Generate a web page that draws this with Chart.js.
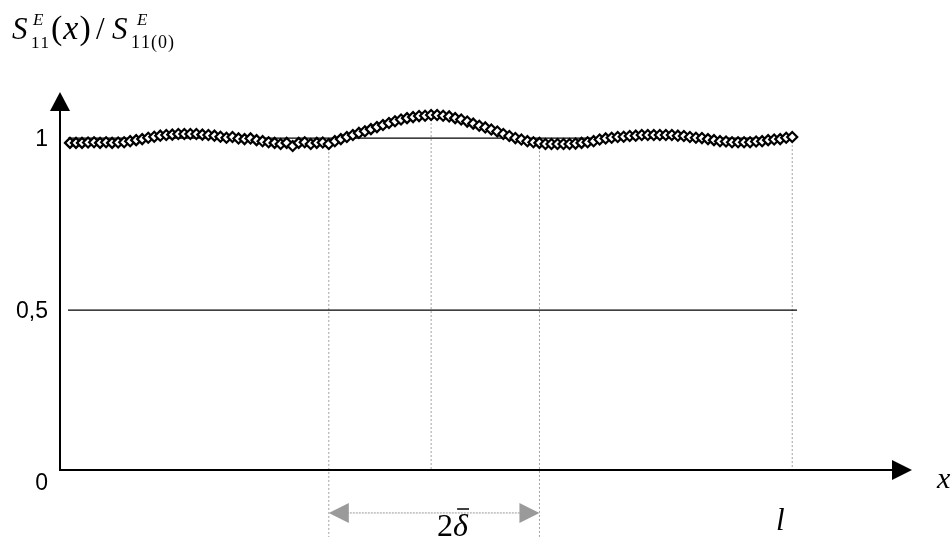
<!DOCTYPE html>
<html lang="ru">
<head>
<meta charset="UTF-8">
<title>S11E(x) / S11E(0)</title>
<script src="https://cdn.jsdelivr.net/npm/chart.js"></script>
<style>
    html, body { margin: 0; padding: 0; background: #fff; }
    #wrap { width: 951px; height: 537px; }
</style>
</head>
<body>
<div id="wrap"><canvas id="profileChart" width="951" height="537"></canvas></div>
<script>
    // S11E(x) / S11E(0) along the sample, equally spaced points 0..120
    const ratioValues = [
        0.986, 0.986, 0.986, 0.987, 0.988, 0.986, 0.988, 0.986, 0.987, 0.988,
        0.991, 0.994, 0.997, 1.001, 1.004, 1.007, 1.009, 1.010, 1.012, 1.012,
        1.012, 1.012, 1.010, 1.009, 1.007, 1.004, 1.001, 1.003, 0.999, 0.997,
        0.999, 0.994, 0.991, 0.988, 0.986, 0.983, 0.986, 0.977, 0.986, 0.988,
        0.983, 0.986, 0.987, 0.983, 0.991, 0.997, 1.003, 1.009, 1.015, 1.020,
        1.026, 1.032, 1.038, 1.044, 1.049, 1.054, 1.058, 1.061, 1.064, 1.065,
        1.067, 1.067, 1.065, 1.063, 1.058, 1.054, 1.048, 1.042, 1.036, 1.031,
        1.025, 1.019, 1.012, 1.006, 1.000, 0.996, 0.991, 0.988, 0.986, 0.983,
        0.983, 0.983, 0.983, 0.983, 0.984, 0.986, 0.988, 0.991, 0.996, 0.999,
        1.001, 1.003, 1.004, 1.006, 1.007, 1.009, 1.009, 1.009, 1.009, 1.009,
        1.009, 1.007, 1.006, 1.003, 1.001, 1.000, 0.997, 0.994, 0.991, 0.990,
        0.988, 0.988, 0.988, 0.988, 0.990, 0.991, 0.994, 0.996, 0.997, 1.001,
        1.003
    ];
    const positions = ratioValues.map((v, i) => i);

    const yTicks = [0, 0.5, 1];
    const yTickLabels = ['0', '0,5', '1'];
    const gridLevels = [0.5, 1];
    const gridFrom = -0.33;
    const gridTo = 120.8;

    // x0 - delta, x0, x0 + delta, l
    const markIdx = [43, 60, 78, 120];
    const deltaLeft = 43, deltaRight = 78, lengthIdx = 120;

    const xMin = -1.66, xMax = 139.9;
    const yMin = 0, yMax = 1.134;
    const axisY = 0.035;      // where the x axis line sits
    const belowAxis = -0.17;  // delta lines run to the bottom edge
    const arrowLevel = -0.09; // 2δ dimension arrow

    const datasets = [];

    datasets.push({
        data: positions.map((x, i) => ({x: x, y: ratioValues[i]})),
        borderColor: '#000',
        borderWidth: 1.2,
        pointStyle: 'rectRot',
        pointRadius: 5,
        pointBackgroundColor: '#fff',
        pointBorderColor: '#000',
        pointBorderWidth: 2.2,
        order: 0
    });

    gridLevels.forEach(g => {
        datasets.push({
            data: [{x: gridFrom, y: g}, {x: gridTo, y: g}],
            borderColor: '#000',
            borderWidth: 1.2,
            pointRadius: 0,
            order: 2
        });
    });

    markIdx.forEach(idx => {
        const reachBottom = idx === deltaLeft || idx === deltaRight;
        datasets.push({
            data: [{x: idx, y: ratioValues[idx]}, {x: idx, y: reachBottom ? belowAxis : axisY}],
            borderColor: '#a0a0a0',
            borderWidth: 1,
            borderDash: [2, 2],
            pointRadius: 0,
            clip: false,
            order: 3
        });
    });

    const serif = '"Liberation Serif", "Times New Roman", serif';

    const decor = {
        id: 'decor',
        afterDraw(chart) {
            const ctx = chart.ctx;
            const xs = chart.scales.x, ys = chart.scales.y;
            const ax = xs.getPixelForValue(xMin);
            const ay = ys.getPixelForValue(axisY);
            const top = ys.top, right = xs.right;

            ctx.save();
            ctx.strokeStyle = '#000';
            ctx.fillStyle = '#000';
            ctx.lineWidth = 2;

            // y axis with arrow
            ctx.beginPath();
            ctx.moveTo(ax, ay);
            ctx.lineTo(ax, top + 16);
            ctx.stroke();
            ctx.beginPath();
            ctx.moveTo(ax, top);
            ctx.lineTo(ax - 10, top + 19);
            ctx.lineTo(ax + 10, top + 19);
            ctx.closePath();
            ctx.fill();

            // x axis with arrow
            ctx.beginPath();
            ctx.moveTo(ax - 1, ay);
            ctx.lineTo(right - 16, ay);
            ctx.stroke();
            ctx.beginPath();
            ctx.moveTo(right, ay);
            ctx.lineTo(right - 20, ay - 10);
            ctx.lineTo(right - 20, ay + 10);
            ctx.closePath();
            ctx.fill();

            // tick labels
            ctx.font = '23px "Liberation Sans", Arial, sans-serif';
            ctx.textAlign = 'right';
            ctx.textBaseline = 'middle';
            yTicks.forEach((t, i) => {
                ctx.fillText(yTickLabels[i], ax - 12, ys.getPixelForValue(t) + 2);
            });

            // x label
            ctx.textAlign = 'left';
            ctx.textBaseline = 'alphabetic';
            ctx.font = 'italic 30px ' + serif;
            ctx.fillText('x', right + 25, ay + 18);

            // l label
            ctx.font = 'italic 31px ' + serif;
            ctx.textAlign = 'center';
            ctx.fillText('l', xs.getPixelForValue(lengthIdx) - 12, 530);

            // 2δ dimension arrow
            const xl = xs.getPixelForValue(deltaLeft);
            const xr = xs.getPixelForValue(deltaRight);
            const yArr = ys.getPixelForValue(arrowLevel);
            ctx.fillStyle = '#9a9a9a';
            ctx.strokeStyle = '#9a9a9a';
            ctx.lineWidth = 1;
            ctx.setLineDash([2, 1]);
            ctx.beginPath();
            ctx.moveTo(xl + 18, yArr);
            ctx.lineTo(xr - 18, yArr);
            ctx.stroke();
            ctx.setLineDash([]);
            ctx.beginPath();
            ctx.moveTo(xl, yArr);
            ctx.lineTo(xl + 20, yArr - 10);
            ctx.lineTo(xl + 20, yArr + 10);
            ctx.closePath();
            ctx.fill();
            ctx.beginPath();
            ctx.moveTo(xr, yArr);
            ctx.lineTo(xr - 20, yArr - 10);
            ctx.lineTo(xr - 20, yArr + 10);
            ctx.closePath();
            ctx.fill();

            ctx.fillStyle = '#000';
            ctx.strokeStyle = '#000';
            ctx.textAlign = 'left';
            const mid = (xl + xr) / 2;
            const tx = mid + 3, tb = 536;
            ctx.font = '32px ' + serif;
            ctx.fillText('2', tx, tb);
            const w2 = ctx.measureText('2').width;
            ctx.font = 'italic 32px ' + serif;
            ctx.fillText('δ', tx + w2, tb);
            const wd = ctx.measureText('δ').width;
            ctx.lineWidth = 1.5;
            ctx.beginPath();
            ctx.moveTo(tx + w2 + 4, tb - 27);
            ctx.lineTo(tx + w2 + wd + 1, tb - 27);
            ctx.stroke();

            // title S11E(x) / S11E(0)
            const base = 39;
            const subOf = (chars, x0, y0) => {
                let sx = x0;
                chars.forEach(ch => {
                    ctx.fillText(ch, sx, y0);
                    sx += ctx.measureText(ch).width + 1;
                });
            };
            ctx.font = 'italic 31px ' + serif;
            ctx.fillText('S', 12, base);
            ctx.font = 'italic 17px ' + serif;
            ctx.fillText('E', 33, base - 14);
            ctx.font = '17px ' + serif;
            subOf(['1', '1'], 31, base + 9);
            let cx = 51;
            ctx.font = '34px ' + serif;
            ctx.fillText('(', cx, base);
            cx += ctx.measureText('(').width + 1;
            ctx.font = 'italic 34px ' + serif;
            ctx.fillText('x', cx, base);
            cx += ctx.measureText('x').width + 1;
            ctx.font = '34px ' + serif;
            ctx.fillText(')', cx, base);
            ctx.font = '31px ' + serif;
            ctx.fillText('/', 96, base);
            ctx.font = 'italic 31px ' + serif;
            ctx.fillText('S', 112, base);
            ctx.font = 'italic 17px ' + serif;
            ctx.fillText('E', 137, base - 14);
            ctx.font = '18px ' + serif;
            subOf(['1', '1', '(', '0', ')'], 131, base + 9);

            ctx.restore();
        }
    };

    new Chart(document.getElementById('profileChart'), {
        type: 'line',
        data: {datasets: datasets},
        options: {
            responsive: false,
            animation: false,
            layout: {padding: {left: 60, right: 39, top: 92, bottom: 55}},
            plugins: {legend: {display: false}, tooltip: {enabled: false}},
            scales: {
                x: {type: 'linear', min: xMin, max: xMax, display: false},
                y: {type: 'linear', min: yMin, max: yMax, display: false}
            }
        },
        plugins: [decor]
    });
</script>
</body>
</html>
